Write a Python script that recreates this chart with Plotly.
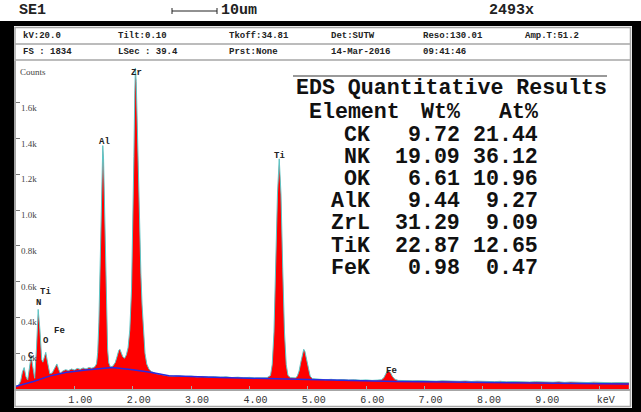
import plotly.graph_objects as go

W, H = 641, 412

# ---- spectrum (keV, counts) ----
energy_kev = [
    0.00, 0.04, 0.08, 0.11, 0.14, 0.17, 0.20, 0.23, 0.26, 0.29, 0.32, 0.35, 0.38, 0.41,
    0.44, 0.46, 0.48, 0.51, 0.54, 0.58, 0.62, 0.66, 0.70, 0.73, 0.76, 0.80, 0.85, 0.90,
    0.95, 1.00, 1.05, 1.10, 1.15, 1.20, 1.25, 1.30, 1.35, 1.38, 1.40, 1.42, 1.44, 1.46,
    1.475, 1.487, 1.50, 1.515, 1.53, 1.55, 1.57, 1.59, 1.62, 1.66, 1.70, 1.73, 1.76, 1.78,
    1.80, 1.83, 1.86, 1.89, 1.92, 1.95, 1.98, 2.00, 2.02, 2.035, 2.045, 2.06, 2.075, 2.09,
    2.105, 2.12, 2.14, 2.16, 2.18, 2.21, 2.24, 2.28, 2.32, 2.36, 2.40, 2.45, 2.50, 2.55,
    2.60, 2.70, 2.80, 2.90, 3.00, 3.10, 3.20, 3.30, 3.40, 3.50, 3.60, 3.70, 3.80, 3.90,
    4.00, 4.10, 4.20, 4.30, 4.36, 4.39, 4.42, 4.45, 4.48, 4.51, 4.54, 4.57, 4.60, 4.63,
    4.66, 4.70, 4.75, 4.79, 4.82, 4.85, 4.88, 4.91, 4.93, 4.95, 4.98, 5.01, 5.04, 5.08,
    5.20, 5.30, 5.40, 5.50, 5.60, 5.70, 5.80, 5.90, 6.00, 6.10, 6.20, 6.26, 6.30, 6.33,
    6.36, 6.39, 6.42, 6.45, 6.49, 6.55, 6.60, 6.70, 6.80, 6.90, 7.00, 7.10, 7.20, 7.30,
    7.40, 7.50, 7.60, 7.70, 7.80, 7.90, 8.00, 8.10, 8.20, 8.30, 8.40, 8.50, 8.60, 8.70,
    8.80, 8.90, 9.00, 9.10, 9.20, 9.30, 9.40, 9.50, 9.60, 9.70, 9.80, 9.90, 10.00, 10.10,
    10.20, 10.30, 10.40, 10.50,
]
counts = [
    15, 20, 45, 95, 120, 70, 50, 110, 185, 120, 60, 220, 445, 330,
    165, 150, 175, 205, 150, 85, 90, 115, 140, 110, 88, 100, 108, 103,
    112, 106, 115, 110, 118, 112, 120, 116, 124, 141, 204, 374, 690, 1090,
    1305, 1361, 1285, 1050, 755, 410, 220, 146, 122, 128, 148, 180, 215, 222,
    208, 180, 172, 190, 230, 330, 560, 850, 1300, 1650, 1795, 1720, 1500, 1230,
    1000, 830, 640, 470, 330, 200, 140, 110, 98, 90, 86, 84, 80, 78,
    74, 72, 74, 70, 72, 68, 70, 67, 69, 66, 68, 64, 66, 63,
    65, 62, 64, 63, 76, 137, 318, 673, 1090, 1287, 1090, 673, 318, 137,
    76, 64, 62, 62, 72, 100, 150, 205, 222, 210, 160, 105, 72, 58,
    55, 52, 54, 51, 53, 50, 52, 49, 51, 48, 50, 52, 62, 82,
    100, 102, 90, 70, 55, 48, 47, 49, 46, 47, 45, 47, 44, 46,
    44, 45, 43, 45, 42, 44, 42, 43, 41, 43, 40, 42, 40, 41,
    39, 41, 39, 40, 38, 40, 37, 39, 37, 38, 36, 38, 36, 37,
    35, 36, 34, 35,
]

# ---- fitted background ----
bg_energy = [0.0, 0.30, 0.57, 0.85, 1.20, 1.65, 2.00, 2.30, 2.62, 3.00, 3.50, 4.00,
             4.50, 5.00, 5.70, 6.50, 7.40, 8.30, 9.10, 10.50]
bg_counts = [15, 42, 72, 92, 106, 120, 108, 94, 74, 68, 64, 60,
             56, 52, 46, 42, 39, 36, 33, 28]

# ---- peak identification labels ----
peak_names = ["C", "N", "Ti", "O", "Fe", "Al", "Zr", "Ti", "Fe"]
peak_energy = [0.26, 0.38, 0.50, 0.51, 0.74, 1.52, 2.06, 4.52, 6.44]
peak_label_counts = [185, 481, 542, 268, 324, 1381, 1767, 1303, 100]

# ---- axis ticks ----
x_ticks = [1, 2, 3, 4, 5, 6, 7, 8, 9, 10]
x_tick_text = ["1.00", "2.00", "3.00", "4.00", "5.00", "6.00", "7.00", "8.00", "9.00", "keV"]
y_ticks = [200, 400, 600, 800, 1000, 1200, 1400, 1600]
y_tick_text = ["0.2k", "0.4k", "0.6k", "0.8k", "1.0k", "1.2k", "1.4k", "1.6k"]
full_scale = 1834

# ---- acquisition header ----
header_row1 = ["kV:20.0", "Tilt:0.10", "Tkoff:34.81", "Det:SUTW", "Reso:130.01", "Amp.T:51.2"]
header_row2 = ["FS : 1834", "LSec : 39.4", "Prst:None", "14-Mar-2016", "09:41:46"]
header_cols_px = [21, 116, 227, 329, 421, 523]

# ---- quantitative results ----
elements = ["CK", "NK", "OK", "AlK", "ZrL", "TiK", "FeK"]
wt_pct = [9.72, 19.09, 6.61, 9.44, 31.29, 22.87, 0.98]
at_pct = [21.44, 36.12, 10.96, 9.27, 9.09, 12.65, 0.47]


def px(x):
    return x / W


def py(y):
    return 1 - y / H


MONO = "Liberation Mono, Courier New, monospace"
SERIF = "Liberation Serif, Times New Roman, serif"
GREY = "#a6a6a6"

fig = go.Figure()
fig.add_trace(go.Scatter(
    x=energy_kev, y=counts, mode="lines", fill="tozeroy",
    fillcolor="#ff0000", line=dict(color="#5cc6c6", width=1),
    hoverinfo="skip", showlegend=False,
))
fig.add_trace(go.Scatter(
    x=bg_energy, y=bg_counts, mode="lines",
    line=dict(color="#2a2ae0", width=1.5),
    hoverinfo="skip", showlegend=False,
))

x0_px, x1_px = 16, 630
y_top_px, y_bot_px = 61, 389

fig.update_layout(
    width=W, height=H,
    margin=dict(l=0, r=0, t=0, b=0),
    paper_bgcolor="white", plot_bgcolor="white",
    xaxis=dict(
        domain=[px(x0_px), px(x1_px)], range=[0, 10.52],
        showline=True, linecolor=GREY, linewidth=1.5,
        showgrid=False, zeroline=False,
        tickvals=x_ticks, ticktext=x_tick_text,
        ticks="inside", ticklen=3, tickcolor=GREY,
        tickfont=dict(family=MONO, size=10, color="#333"),
        ticklabelshift=6,
    ),
    yaxis=dict(
        domain=[py(y_bot_px), py(y_top_px)], range=[0, full_scale],
        showline=True, linecolor=GREY, linewidth=1.5,
        showgrid=False, zeroline=False,
        tickvals=y_ticks, ticks="inside", ticklen=4, tickcolor="#777",
        showticklabels=False,
    ),
)

shapes = []
# black frame around the report
for (a, b, c, d) in [(0, 21, W, 26), (0, 21, 14, H), (632, 21, W, H), (0, 408, W, H)]:
    shapes.append(dict(type="rect", xref="paper", yref="paper",
                       x0=px(a), x1=px(c), y0=py(b), y1=py(d),
                       fillcolor="black", line=dict(width=0), layer="above"))
# grey panel border and header separators
shapes.append(dict(type="rect", xref="paper", yref="paper",
                   x0=px(15), x1=px(630.5), y0=py(27.5), y1=py(406.5),
                   line=dict(color=GREY, width=1.5)))
for yy in [44, 60]:
    shapes.append(dict(type="line", xref="paper", yref="paper",
                       x0=px(15), x1=px(630.5), y0=py(yy), y1=py(yy),
                       line=dict(color=GREY, width=1.5)))
# rule above the results table
shapes.append(dict(type="line", xref="paper", yref="paper",
                   x0=px(293), x1=px(607), y0=py(76), y1=py(76),
                   line=dict(color="#999", width=2)))
# scale bar
sb_y = 11
shapes.append(dict(type="line", xref="paper", yref="paper",
                   x0=px(172), x1=px(217), y0=py(sb_y), y1=py(sb_y),
                   line=dict(color="#222", width=1)))
for xx in [172, 217]:
    shapes.append(dict(type="line", xref="paper", yref="paper",
                       x0=px(xx), x1=px(xx), y0=py(sb_y - 3), y1=py(sb_y + 3),
                       line=dict(color="#222", width=1)))

ann = []


def text(x, y, s, size, family=MONO, anchor="left", color="#111", bold=False):
    ann.append(dict(xref="paper", yref="paper", x=px(x), y=py(y),
                    text=f"<b>{s}</b>" if bold else s, showarrow=False,
                    xanchor=anchor, yanchor="middle",
                    font=dict(family=family, size=size, color=color)))


# top caption strip
text(17, 11, "SE1", 15, bold=True, color="#222")
text(219, 11, "10um", 15, bold=True, color="#222")
text(487, 11, "2493x", 15, bold=True, color="#222")

# acquisition parameters
for s, x in zip(header_row1, header_cols_px):
    text(x, 36, s, 9, bold=True, color="#222")
for s, x in zip(header_row2, header_cols_px):
    text(x, 52, s, 9, bold=True, color="#222")

# y label and tick labels
text(18, 72, "Counts", 9, family=SERIF, color="#444")
for v, s in zip(y_ticks, y_tick_text):
    ann.append(dict(xref="paper", yref="y", x=px(18.5), y=v, yshift=-5,
                    text=s, showarrow=False, xanchor="left", yanchor="middle",
                    font=dict(family=SERIF, size=9, color="#444")))

# peak labels
for name, e, c in zip(peak_names, peak_energy, peak_label_counts):
    ann.append(dict(xref="x", yref="y", x=e, y=c, text=f"<b>{name}</b>",
                    showarrow=False, xanchor="center", yanchor="middle",
                    font=dict(family=MONO, size=9, color="#222")))

# quantitative results table
cw = 12.96
tx = 294
text(tx, 88, "EDS Quantitative Results", 21.6, bold=True)
text(tx + cw, 112, "Element", 21.6, bold=True)
text(tx + 13 * cw, 112, "Wt%", 21.6, anchor="right", bold=True)
text(tx + 19 * cw, 112, "At%", 21.6, anchor="right", bold=True)
for i, (el, w, a) in enumerate(zip(elements, wt_pct, at_pct)):
    yy = 135 + i * 22.1
    text(tx + 6 * cw, yy, el, 21.6, anchor="right", bold=True)
    text(tx + 13 * cw, yy, f"{w:.2f}", 21.6, anchor="right", bold=True)
    text(tx + 19 * cw, yy, f"{a:.2f}", 21.6, anchor="right", bold=True)

fig.update_layout(shapes=shapes, annotations=ann)
fig.write_html("out.html")
